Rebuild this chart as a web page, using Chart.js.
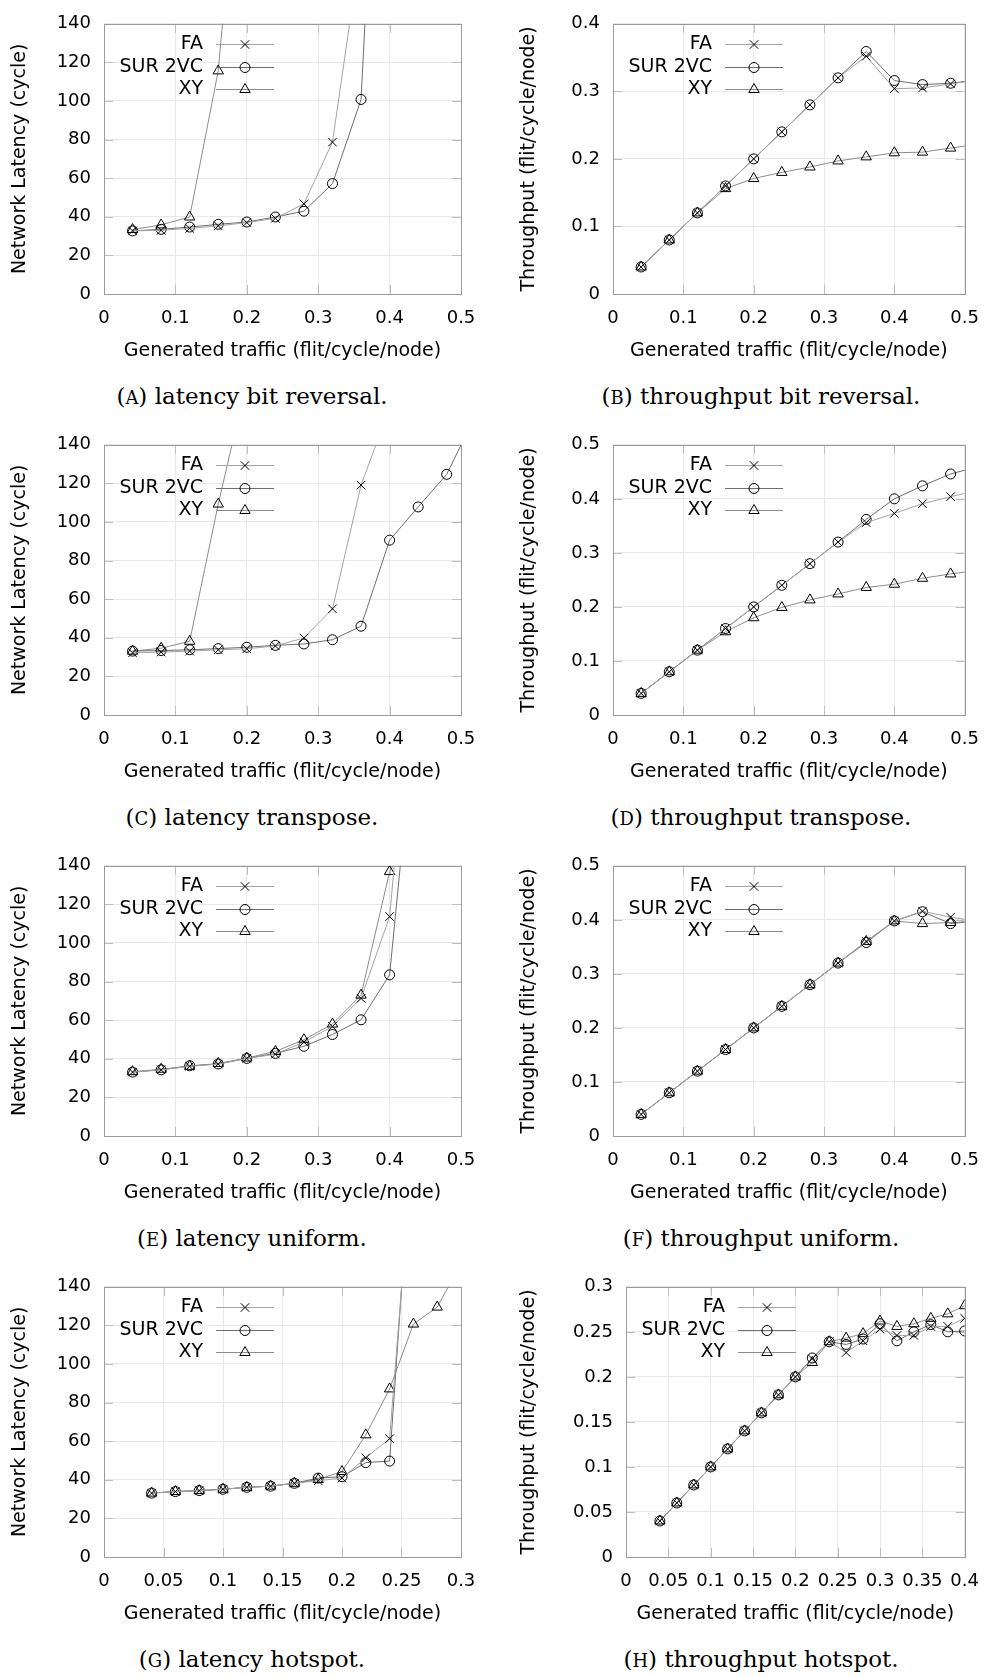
<!DOCTYPE html>
<html>
<head>
<meta charset="utf-8">
<script src="https://cdn.jsdelivr.net/npm/chart.js@4.4.1/dist/chart.umd.min.js"></script>
<style>
  body { margin: 0; background: #fff; width: 993px; height: 1676px; position: relative; overflow: hidden; }
  canvas { position: absolute; }
  .cap { position: absolute; width: 500px; text-align: center; font-family: "DejaVu Serif", serif; font-size: 23px; line-height: 30px; color: #000; }
  .sc { font-size: 0.78em; }
</style>
</head>
<body>
<script>
// ---- data ----
var seriesNames = ['FA', 'SUR 2VC', 'XY'];

// generated traffic, flit/cycle/node
var rateLoad = [0.04, 0.08, 0.12, 0.16, 0.20, 0.24, 0.28, 0.32, 0.36, 0.40, 0.44, 0.48, 0.52];
var rateHot  = [0.04, 0.06, 0.08, 0.10, 0.12, 0.14, 0.16, 0.18, 0.20, 0.22, 0.24, 0.26, 0.28, 0.30, 0.32, 0.34, 0.36, 0.38, 0.40];

// (A) latency bit reversal
var latBitrevFA  = [32.7, 33.0, 34.0, 35.3, 37.0, 39.2, 46.7, 78.7, 181];
var latBitrevSUR = [32.7, 33.5, 34.7, 36.1, 37.3, 39.9, 42.9, 57.2, 100.8, 390];
var latBitrevXY  = [33.4, 35.8, 39.9, 115.6, 280];

// (B) throughput bit reversal
var thrBitrevFA  = [0.04, 0.08, 0.12, 0.16, 0.20, 0.24, 0.28, 0.32, 0.352, 0.304, 0.305, 0.311, 0.317];
var thrBitrevSUR = [0.04, 0.08, 0.12, 0.16, 0.20, 0.24, 0.28, 0.32, 0.359, 0.316, 0.310, 0.312, 0.317];
var thrBitrevXY  = [0.04, 0.08, 0.12, 0.156, 0.171, 0.180, 0.188, 0.197, 0.203, 0.209, 0.210, 0.216, 0.222];

// (C) latency transpose
var latTransFA  = [32.2, 32.6, 33.1, 33.8, 34.3, 35.8, 39.9, 55.0, 119.1, 159];
var latTransSUR = [33.1, 33.4, 33.8, 34.4, 35.1, 36.1, 36.8, 39.0, 46.0, 90.6, 107.8, 124.7, 155];
var latTransXY  = [33.1, 34.6, 38.2, 109.3, 173];

// (D) throughput transpose
var thrTransFA  = [0.04, 0.08, 0.12, 0.16, 0.20, 0.24, 0.28, 0.32, 0.356, 0.373, 0.391, 0.404, 0.416];
var thrTransSUR = [0.04, 0.08, 0.12, 0.16, 0.20, 0.24, 0.28, 0.32, 0.362, 0.400, 0.424, 0.446, 0.460];
var thrTransXY  = [0.04, 0.08, 0.12, 0.154, 0.180, 0.199, 0.213, 0.224, 0.236, 0.242, 0.253, 0.261, 0.268];

// (E) latency uniform
var latUnifFA  = [33.1, 34.3, 36.1, 37.3, 40.2, 42.4, 48.7, 56.8, 71.3, 113.7, 273];
var latUnifSUR = [33.1, 34.3, 36.4, 37.3, 40.2, 42.8, 46.5, 52.6, 60.2, 83.5, 234];
var latUnifXY  = [33.3, 34.6, 36.1, 37.6, 40.4, 43.8, 49.9, 58.0, 73.0, 137.0, 162];

// (F) throughput uniform
var thrUnifFA  = [0.04, 0.08, 0.12, 0.16, 0.20, 0.24, 0.28, 0.32, 0.36, 0.398, 0.416, 0.405, 0.397];
var thrUnifSUR = [0.04, 0.08, 0.12, 0.16, 0.20, 0.24, 0.28, 0.32, 0.358, 0.398, 0.415, 0.393, 0.399];
var thrUnifXY  = [0.04, 0.08, 0.12, 0.16, 0.20, 0.24, 0.28, 0.32, 0.36, 0.398, 0.393, 0.395, 0.397];

// (G) latency hotspot
var latHotFA  = [33.1, 33.9, 34.4, 35.1, 36.1, 36.7, 38.2, 39.5, 40.9, 51.4, 61.3, 217];
var latHotSUR = [33.1, 33.9, 34.4, 35.1, 36.1, 36.7, 38.2, 40.9, 41.6, 48.9, 49.7, 228];
var latHotXY  = [33.1, 33.9, 34.4, 35.1, 36.1, 36.7, 38.2, 40.2, 44.3, 63.3, 87.1, 120.7, 129.5, 152];

// (H) throughput hotspot
var thrHotFA  = [0.04, 0.06, 0.08, 0.10, 0.12, 0.14, 0.16, 0.18, 0.20, 0.220, 0.239, 0.227, 0.240, 0.253, 0.246, 0.246, 0.256, 0.256, 0.265];
var thrHotSUR = [0.04, 0.06, 0.08, 0.10, 0.12, 0.14, 0.16, 0.18, 0.20, 0.221, 0.239, 0.236, 0.242, 0.259, 0.240, 0.250, 0.258, 0.250, 0.251];
var thrHotXY  = [0.04, 0.06, 0.08, 0.10, 0.12, 0.14, 0.16, 0.18, 0.20, 0.216, 0.239, 0.243, 0.248, 0.262, 0.256, 0.259, 0.265, 0.270, 0.279];

var xTitle = 'Generated traffic (flit/cycle/node)';
var latTitle = 'Network Latency (cycle)';
var thrTitle = 'Throughput (flit/cycle/node)';

// ---- styles / layout ----
var lineColors = ['#a3a3a3', '#6e6e6e', '#8c8c8c'];
var markers = ['crossRot', 'circle', 'triangle'];
var markerSizes = [6, 5, 6];

var CANVAS_H = 372;
var AREA_TOP = 20;
var AREA_BOTTOM = 294;
var ROW_TOP = [0, 421, 842, 1263];
var CAP_Y = 396;
var cols = [
  { left: 0, width: 496, areaLeft: 104, areaRight: 461, ytitleX: 20.5, capX: 252 },
  { left: 496, width: 497, areaLeft: 117, areaRight: 474, ytitleX: 33, capX: 761 }
];

Chart.defaults.font.family = '"DejaVu Sans", sans-serif';
Chart.defaults.color = '#000';

function fmt(v) { return String(Math.round(v * 1000) / 1000); }

// gnuplot style box with small inward tick marks
var framePlugin = {
  id: 'frame',
  beforeDatasetsDraw: function (chart) {
    var a = chart.chartArea, ctx = chart.ctx;
    var sx = chart.scales.x, sy = chart.scales.y;
    ctx.save();
    ctx.lineWidth = 1;
    ctx.strokeStyle = '#bdbdbd';
    ctx.beginPath();
    sy.ticks.forEach(function (t) {
      var py = Math.round(sy.getPixelForValue(t.value)) + 0.5;
      ctx.moveTo(a.left, py); ctx.lineTo(a.left + 9, py);
      ctx.moveTo(a.right, py); ctx.lineTo(a.right - 9, py);
    });
    sx.ticks.forEach(function (t) {
      var px = Math.round(sx.getPixelForValue(t.value)) + 0.5;
      ctx.moveTo(px, a.bottom); ctx.lineTo(px, a.bottom - 9);
      ctx.moveTo(px, a.top); ctx.lineTo(px, a.top + 9);
    });
    ctx.stroke();
    ctx.strokeStyle = '#9a9a9a';
    ctx.strokeRect(Math.round(a.left) + 0.5, Math.round(a.top) + 0.5, Math.round(a.right - a.left), Math.round(a.bottom - a.top));
    ctx.restore();
  }
};

function drawMarker(ctx, style, x, y, r) {
  ctx.beginPath();
  if (style === 'circle') {
    ctx.arc(x, y, r, 0, Math.PI * 2);
  } else if (style === 'triangle') {
    for (var k = 0; k < 3; k++) {
      var ang = k * 2 * Math.PI / 3;
      var px = x + Math.sin(ang) * r, py = y - Math.cos(ang) * r;
      if (k === 0) ctx.moveTo(px, py); else ctx.lineTo(px, py);
    }
    ctx.closePath();
  } else {
    var d = r * Math.SQRT1_2;
    ctx.moveTo(x - d, y - d); ctx.lineTo(x + d, y + d);
    ctx.moveTo(x + d, y - d); ctx.lineTo(x - d, y + d);
  }
  ctx.stroke();
}

// key in the top-left corner: label, line sample, marker
var keyPlugin = {
  id: 'gkey',
  afterDatasetsDraw: function (chart) {
    var a = chart.chartArea, ctx = chart.ctx;
    ctx.save();
    ctx.font = '19px "DejaVu Sans"';
    ctx.textAlign = 'right';
    ctx.textBaseline = 'middle';
    chart.data.datasets.forEach(function (ds, i) {
      var y = Math.round(a.top + 20 + i * 22.8) + 0.5;
      ctx.fillStyle = '#000';
      ctx.fillText(ds.label, a.left + 99, y);
      ctx.strokeStyle = ds.borderColor;
      ctx.lineWidth = 1;
      ctx.beginPath();
      ctx.moveTo(a.left + 112, y); ctx.lineTo(a.left + 170, y);
      ctx.stroke();
      ctx.strokeStyle = '#000';
      drawMarker(ctx, ds.pointStyle, a.left + 141, y, ds.pointRadius);
    });
    ctx.restore();
  }
};

var panels = [
  { tag: 'A', caption: 'latency bit reversal.', col: 0, row: 0, x: rateLoad, xmax: 0.5, xstep: 0.1, ymax: 140, ystep: 20, ytitle: latTitle, series: [latBitrevFA, latBitrevSUR, latBitrevXY] },
  { tag: 'B', caption: 'throughput bit reversal.', col: 1, row: 0, x: rateLoad, xmax: 0.5, xstep: 0.1, ymax: 0.4, ystep: 0.1, ytitle: thrTitle, series: [thrBitrevFA, thrBitrevSUR, thrBitrevXY] },
  { tag: 'C', caption: 'latency transpose.', col: 0, row: 1, x: rateLoad, xmax: 0.5, xstep: 0.1, ymax: 140, ystep: 20, ytitle: latTitle, series: [latTransFA, latTransSUR, latTransXY] },
  { tag: 'D', caption: 'throughput transpose.', col: 1, row: 1, x: rateLoad, xmax: 0.5, xstep: 0.1, ymax: 0.5, ystep: 0.1, ytitle: thrTitle, series: [thrTransFA, thrTransSUR, thrTransXY] },
  { tag: 'E', caption: 'latency uniform.', col: 0, row: 2, x: rateLoad, xmax: 0.5, xstep: 0.1, ymax: 140, ystep: 20, ytitle: latTitle, series: [latUnifFA, latUnifSUR, latUnifXY] },
  { tag: 'F', caption: 'throughput uniform.', col: 1, row: 2, x: rateLoad, xmax: 0.5, xstep: 0.1, ymax: 0.5, ystep: 0.1, ytitle: thrTitle, series: [thrUnifFA, thrUnifSUR, thrUnifXY] },
  { tag: 'G', caption: 'latency hotspot.', col: 0, row: 3, x: rateHot, xmax: 0.3, xstep: 0.05, ymax: 140, ystep: 20, ytitle: latTitle, series: [latHotFA, latHotSUR, latHotXY] },
  { tag: 'H', caption: 'throughput hotspot.', col: 1, row: 3, x: rateHot, xmax: 0.4, xstep: 0.05, ymax: 0.3, ystep: 0.05, ytitle: thrTitle, series: [thrHotFA, thrHotSUR, thrHotXY], areaLeft: 130 }
];

panels.forEach(function (p) {
  var col = cols[p.col];
  var areaLeft = p.areaLeft || col.areaLeft;
  var top = ROW_TOP[p.row];

  var canvas = document.createElement('canvas');
  canvas.width = col.width;
  canvas.height = CANVAS_H;
  canvas.style.left = col.left + 'px';
  canvas.style.top = top + 'px';
  document.body.appendChild(canvas);

  var cap = document.createElement('div');
  cap.className = 'cap';
  cap.style.left = (col.capX - 250) + 'px';
  cap.style.top = (top + CAP_Y - 15) + 'px';
  cap.innerHTML = '(<span class="sc">' + p.tag + '</span>) ' + p.caption;
  document.body.appendChild(cap);

  var datasets = p.series.map(function (vals, s) {
    return {
      label: seriesNames[s],
      data: vals.map(function (v, i) { return { x: p.x[i], y: v }; }),
      borderColor: lineColors[s],
      borderWidth: 1,
      pointStyle: markers[s],
      pointRadius: markerSizes[s],
      pointBorderColor: '#000',
      pointBackgroundColor: 'rgba(0,0,0,0)',
      pointBorderWidth: 1,
      fill: false,
      tension: 0
    };
  });

  new Chart(canvas, {
    type: 'line',
    data: { datasets: datasets },
    options: {
      responsive: false,
      animation: false,
      devicePixelRatio: 1,
      layout: { padding: { top: AREA_TOP, right: col.width - col.areaRight, bottom: 0, left: 0 } },
      plugins: { legend: { display: false }, tooltip: { enabled: false } },
      scales: {
        x: {
          type: 'linear',
          min: 0,
          max: p.xmax,
          afterFit: function (s) { s.height = CANVAS_H - AREA_BOTTOM; },
          ticks: { stepSize: p.xstep, autoSkip: false, maxRotation: 0, padding: 14, font: { size: 18 }, callback: fmt },
          grid: { color: '#e8e8e8', drawTicks: false },
          border: { display: false },
          title: { display: true, text: xTitle, font: { size: 19 }, padding: { top: 0, bottom: 10 } }
        },
        y: {
          type: 'linear',
          min: 0,
          max: p.ymax,
          afterFit: function (s) { s.width = areaLeft; },
          ticks: { stepSize: p.ystep, padding: 13, font: { size: 18 }, callback: fmt },
          grid: { color: '#e8e8e8', drawTicks: false },
          border: { display: false },
          title: { display: true, text: p.ytitle, font: { size: 19 }, padding: { top: col.ytitleX - 11.4, bottom: 0 } }
        }
      }
    },
    plugins: [framePlugin, keyPlugin]
  });
});
</script>
</body>
</html>
